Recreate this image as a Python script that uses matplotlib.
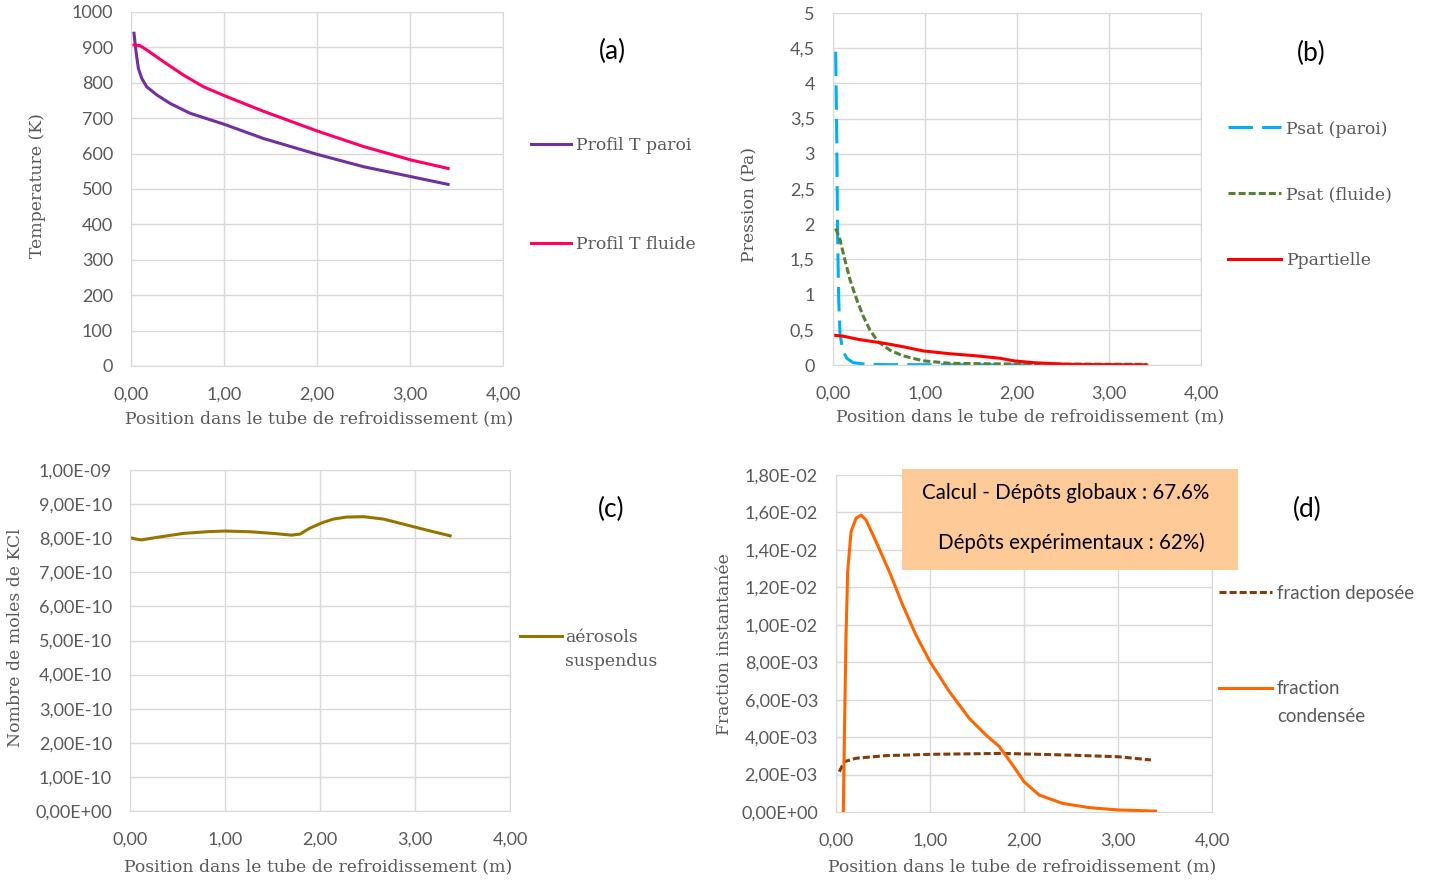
import matplotlib
matplotlib.use("Agg")
import matplotlib.pyplot as plt
import matplotlib.patches as mpatches

# données
# (a) températures
x_tparoi = [0.032, 0.054, 0.079, 0.115, 0.168, 0.276, 0.419, 0.634, 1.0, 1.42, 2.0, 2.5, 3.01, 3.41]
t_paroi = [940, 888, 841, 813, 789, 766, 742, 714, 683, 643, 598, 563, 535, 513]
x_tfluide = [0.032, 0.097, 0.168, 0.348, 0.563, 0.778, 1.0, 1.42, 2.0, 2.5, 3.01, 3.41]
t_fluide = [907, 905, 893, 860, 822, 789, 764, 720, 664, 620, 582, 558]

# (b) pressions
x_psat_paroi = [0.029, 0.04, 0.05, 0.062, 0.076, 0.105, 0.15, 0.22, 0.36, 0.6, 1.0, 2.0, 3.41]
psat_paroi = [4.45, 3.29, 1.87, 0.92, 0.45, 0.21, 0.095, 0.033, 0.01, 0.005, 0.004, 0.003, 0.002]
x_psat_fluide = [0.029, 0.076, 0.13, 0.185, 0.26, 0.33, 0.40, 0.49, 0.62, 0.76, 0.98, 1.27, 1.85, 2.6, 3.41]
psat_fluide = [1.94, 1.78, 1.49, 1.21, 0.92, 0.69, 0.50, 0.33, 0.21, 0.13, 0.06, 0.024, 0.015, 0.012, 0.01]
x_ppart = [0.029, 0.11, 0.29, 0.55, 0.76, 0.98, 1.27, 1.56, 1.82, 1.96, 2.18, 2.54, 3.0, 3.41]
ppart = [0.42, 0.41, 0.36, 0.31, 0.26, 0.2, 0.16, 0.13, 0.095, 0.06, 0.033, 0.01, 0.004, 0.0]

# (c) aérosols
x_aero = [0.024, 0.07, 0.12, 0.32, 0.56, 0.81, 1.0, 1.26, 1.51, 1.70, 1.79, 1.89, 2.02, 2.14,
          2.28, 2.46, 2.67, 2.91, 3.12, 3.37]
aero = [8.00e-10, 7.97e-10, 7.95e-10, 8.04e-10, 8.14e-10, 8.19e-10, 8.21e-10, 8.19e-10, 8.14e-10,
        8.09e-10, 8.12e-10, 8.29e-10, 8.45e-10, 8.56e-10, 8.62e-10, 8.63e-10, 8.56e-10, 8.39e-10,
        8.24e-10, 8.07e-10]

# (d) fractions
x_cond = [0.078, 0.089, 0.106, 0.124, 0.16, 0.213, 0.266, 0.319, 0.426, 0.567, 0.709, 0.851, 1.0,
          1.206, 1.418, 1.596, 1.738, 1.879, 2.0, 2.16, 2.41, 2.70, 3.0, 3.40]
f_cond = [0.0, 0.00394, 0.00928, 0.01284, 0.01497, 0.01569, 0.01586, 0.0156, 0.01444, 0.01284,
          0.01106, 0.00945, 0.00803, 0.00643, 0.005, 0.00411, 0.00349, 0.00251, 0.00162, 0.00091,
          0.00046, 0.00023, 0.00011, 0.00005]
x_depo = [0.035, 0.089, 0.213, 0.53, 1.0, 1.77, 2.48, 3.01, 3.35]
f_depo = [0.00215, 0.00269, 0.00287, 0.00301, 0.00308, 0.00313, 0.00304, 0.00295, 0.00278]

x_ticks = [0, 1, 2, 3, 4]
x_labels = ["0,00", "1,00", "2,00", "3,00", "4,00"]
ya_ticks = list(range(0, 1001, 100))
yb_ticks = [0, 0.5, 1, 1.5, 2, 2.5, 3, 3.5, 4, 4.5, 5]
yb_labels = ["0", "0,5", "1", "1,5", "2", "2,5", "3", "3,5", "4", "4,5", "5"]
yc_ticks = [i * 1e-10 for i in range(11)]
yc_labels = ["0,00E+00"] + ["%d,00E-10" % i for i in range(1, 10)] + ["1,00E-09"]
yd_ticks = [i * 2e-3 for i in range(10)]
yd_labels = ["0,00E+00", "2,00E-03", "4,00E-03", "6,00E-03", "8,00E-03",
             "1,00E-02", "1,20E-02", "1,40E-02", "1,60E-02", "1,80E-02"]

W, H = 1432, 881
SERIF = "DejaVu Serif"
SANS = "Lato"
GREY = "#595959"
GRID = "#D9D9D9"
xlabel = "Position dans le tube de refroidissement (m)"
LW = 2.2

fig = plt.figure(figsize=(W / 100, H / 100), dpi=100)


def px_axes(l, t, r, b):
    return fig.add_axes([l / W, 1 - b / H, (r - l) / W, (b - t) / H])


def px(x, y):
    return (x / W, 1 - y / H)


def ftext(x, y, s, **kw):
    return fig.text(x / W, 1 - y / H, s, **kw)


def style(ax, yticks, ylabels, ylim):
    ax.set_xlim(0, 4)
    ax.set_ylim(*ylim)
    ax.set_xticks(x_ticks, x_labels)
    ax.set_yticks(yticks, ylabels)
    ax.grid(True, color=GRID, linewidth=1)
    ax.set_axisbelow(True)
    for s in ax.spines.values():
        s.set_color(GRID)
    ax.tick_params(length=0, labelsize=13, labelcolor=GREY)
    ax.tick_params(axis="x", pad=14.5)
    ax.tick_params(axis="y", pad=13)
    for lab in ax.get_xticklabels() + ax.get_yticklabels():
        lab.set_fontfamily(SANS)


lab_kw = dict(fontsize=12.4, color=GREY, family=SERIF, ha="center", va="center")
panel_kw = dict(fontsize=19, color="black", family=SANS, ha="center", va="center")

# (a)
ax1 = px_axes(131, 12, 503, 366)
ax1.plot(x_tparoi, t_paroi, color="#7030A0", lw=LW, label="Profil T paroi")
ax1.plot(x_tfluide, t_fluide, color="#FF0066", lw=LW, label="Profil T fluide")
style(ax1, ya_ticks, [str(v) for v in ya_ticks], (0, 1000))
ftext(319, 419, xlabel, **lab_kw)
ftext(37, 186, "Temperature (K)", rotation=90, **lab_kw)
ftext(612, 51, "(a)", **panel_kw)
ax1.legend(loc="upper left", bbox_to_anchor=px(531, 137.5), bbox_transform=fig.transFigure,
           frameon=False, prop={"family": SERIF, "size": 12.4}, labelcolor=GREY,
           handlelength=2.33, handletextpad=0.29, labelspacing=4.75, borderpad=0, borderaxespad=0)

# (b)
ax2 = px_axes(833, 13, 1201, 365)
ax2.plot(x_psat_paroi, psat_paroi, color="#00B0F0", lw=LW, dashes=(8, 3), label="Psat (paroi)")
ax2.plot(x_psat_fluide, psat_fluide, color="#548235", lw=LW, dashes=(2.3, 1.0), label="Psat (fluide)")
ax2.plot(x_ppart, ppart, color="#FF0000", lw=LW, label="Ppartielle")
style(ax2, yb_ticks, yb_labels, (0, 5))
ftext(1030, 417, xlabel, **lab_kw)
ftext(750, 204, "Pression (Pa)", rotation=90, **lab_kw)
ftext(1311, 53, "(b)", **panel_kw)
ax2.legend(loc="upper left", bbox_to_anchor=px(1228, 120.5), bbox_transform=fig.transFigure,
           frameon=False, prop={"family": SERIF, "size": 12.4}, labelcolor=GREY,
           handlelength=3.08, handletextpad=0.29, labelspacing=2.84, borderpad=0, borderaxespad=0)

# (c)
ax3 = px_axes(130, 470, 510, 811)
ax3.plot(x_aero, aero, color="#997300", lw=LW, label="aérosols")
style(ax3, yc_ticks, yc_labels, (0, 1e-9))
ftext(318, 867, xlabel, **lab_kw)
ftext(16, 638, "Nombre de moles de KCl", rotation=90, **lab_kw)
ftext(611, 509, "(c)", **panel_kw)
ax3.legend(loc="upper left", bbox_to_anchor=px(520, 629.5), bbox_transform=fig.transFigure,
           frameon=False, prop={"family": SERIF, "size": 12.4}, labelcolor=GREY,
           handlelength=2.44, handletextpad=0.17, borderpad=0, borderaxespad=0)
ftext(565, 662, "suspendus", fontsize=12.4, family=SERIF, color=GREY, va="center")

# (d)
ax4 = px_axes(836, 475, 1212, 812)
ax4.plot(x_depo, f_depo, color="#843C0C", lw=LW, dashes=(2.3, 1.0), label="fraction deposée", zorder=2)
ax4.plot(x_cond, f_cond, color="#FF6600", lw=LW, label="fraction", zorder=3)
style(ax4, yd_ticks, yd_labels, (0, 0.018))
ftext(1022, 867, xlabel, **lab_kw)
ftext(724, 644, "Fraction instantanée", rotation=90, **lab_kw)
ftext(1307, 509, "(d)", **panel_kw)
ax4.legend(loc="upper left", bbox_to_anchor=px(1219, 585), bbox_transform=fig.transFigure,
           frameon=False, prop={"family": SANS, "size": 13.4}, labelcolor=GREY,
           handlelength=2.85, handletextpad=0.27, labelspacing=4.2, borderpad=0, borderaxespad=0)
ftext(1277, 716, "condensée", fontsize=13.4, family=SANS, color=GREY, va="center")

box = mpatches.Rectangle(px(902, 570), 336 / W, 101 / H, transform=fig.transFigure,
                         facecolor="#FDCA98", edgecolor="none", zorder=5)
fig.patches.append(box)
ftext(1066, 493, "Calcul - Dépôts globaux : 67.6%", fontsize=14.8, family=SANS,
      ha="center", va="center", zorder=6)
ftext(1071, 543, "Dépôts expérimentaux : 62%)", fontsize=14.8, family=SANS,
      ha="center", va="center", zorder=6)

fig.savefig("out.png", dpi=100)
